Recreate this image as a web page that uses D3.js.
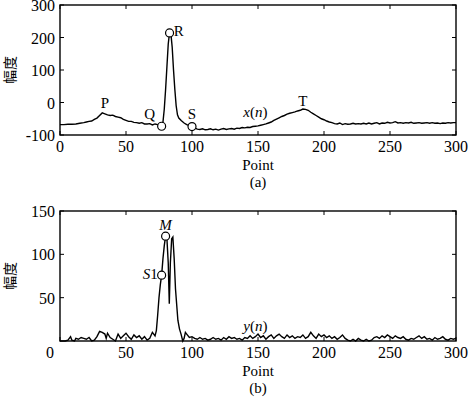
<!DOCTYPE html>
<html><head><meta charset="utf-8">
<script src="https://cdn.jsdelivr.net/npm/d3@7"></script>
<style>
body{margin:0;background:#fff;}
svg text{font-family:"Liberation Serif","Times New Roman",serif;fill:#000;}
</style></head>
<body><svg id="c" width="470" height="398"></svg>
<script>
// ---- data ----
const xTicks = [0,50,100,150,200,250,300];
const yTicksA = [-100,0,100,200,300];
const yTicksB = [50,100,150];

const xnN = [0,3,6,9,12,15,18,20,22,24,26,28,30,32,34,36,38,40,42,44,46,48,50,52,54,56,58,60,62,64,66,68,70,72,74,76,77,78,79,80,81,82,83,84,85,86,87,88,89,90,92,94,96,98,100,102,104,106,108,110,112,114,116,118,120,122,124,126,128,130,132,134,136,138,140,142,144,146,148,150,152,154,156,158,160,162,164,166,168,170,172,174,176,178,180,182,184,186,188,190,192,194,196,198,200,202,204,206,208,210,212,214,216,218,220,222,224,226,228,230,232,234,236,238,240,242,244,246,248,250,252,254,256,258,260,262,264,266,268,270,272,274,276,278,280,282,284,286,288,290,292,294,296,298,300];
const xnV = [-68,-68,-67,-67,-66,-64,-62,-60,-58,-57,-52,-48,-40,-32,-35,-38,-40,-39,-43,-45,-47,-52,-55,-58,-58,-61,-62,-64,-62,-66,-66,-65,-69,-66,-68,-72,-73,-60,-20,40,110,180,216,212,170,100,40,-10,-38,-48,-56,-63,-68,-71,-74,-78,-82,-83,-81,-84,-83,-81,-84,-82,-85,-82,-80,-83,-81,-80,-82,-79,-80,-77,-78,-76,-77,-74,-73,-72,-70,-68,-66,-63,-60,-55,-51,-47,-43,-40,-36,-33,-31,-29,-26,-24,-20,-21,-24,-30,-35,-40,-45,-50,-53,-57,-60,-62,-65,-66,-63,-68,-65,-67,-66,-64,-66,-65,-66,-64,-66,-63,-66,-64,-62,-66,-63,-64,-61,-63,-62,-59,-63,-62,-64,-62,-63,-61,-64,-63,-62,-64,-63,-62,-64,-62,-64,-63,-65,-63,-64,-62,-63,-62,-62];

const ynN = [0,2,4,6,8,9,11,12,14,16,18,20,22,24,26,28,30,32,34,35,36,38,40,42,44,46,48,50,52,54,56,58,60,62,64,66,68,70,72,73,74,75,76,77,78,79,80,81,82,82.8,83.6,84.6,85.5,86.5,87.5,89.3,90.5,91.7,93,94,95,96,98,100,102,104,106,108,110,112,114,116,118,120,122,124,126,128,130,132,134,136,138,140,142,144,146,148,150,152,154,156,158,160,162,164,166,168,170,172,174,176,178,180,182,184,186,188,190,192,194,196,198,200,202,204,206,208,210,212,214,216,218,220,222,224,226,228,230,232,234,236,238,240,242,244,246,248,250,252,254,256,258,260,262,264,266,268,270,272,274,276,278,280,282,284,286,288,290,292,294,296,298,300];
const ynV = [0,0,0,1,5,1,0,3,2,4,3,2,4,0,1,5,11,10,8,3,9,4,2,0,8,3,6,9,5,2,7,4,6,2,5,1,3,10,6,12,30,50,65,76,95,110,121,118,90,43,90,118,120,95,60,24,14,8,0,3,10,8,4,5,3,2,4,2,3,1,2,4,2,3,1,4,2,5,3,4,2,3,1,4,3,6,3,5,8,4,6,2,5,7,3,6,8,5,3,7,4,6,3,5,4,7,3,5,10,6,3,8,5,7,4,6,3,5,2,4,7,3,1,0,2,0,3,1,0,2,0,1,4,5,3,6,4,7,5,3,6,4,3,5,2,1,3,2,4,6,3,5,2,3,1,4,2,3,5,2,1,3,2,3];

const markA = [{n:77,v:-73},{n:83,v:214},{n:100,v:-74}];
const markB = [{n:80,v:121},{n:77,v:76}];

// ---- drawing ----
const svg = d3.select("#c");
const L = 60, R = 456;
const x = d3.scaleLinear().domain([0,300]).range([L,R]);

function panel(top, bottom, yDom, yTicks, N, V, marks, cap, zeroShift) {
  const y = d3.scaleLinear().domain(yDom).range([bottom, top]);
  const g = svg.append("g");
  g.append("rect").attr("x",L).attr("y",top).attr("width",R-L).attr("height",bottom-top)
    .attr("fill","none").attr("stroke","#000").attr("stroke-width",1.4);
  const tl = 4;
  xTicks.forEach(t=>{
    g.append("line").attr("x1",x(t)).attr("x2",x(t)).attr("y1",top).attr("y2",top+tl).attr("stroke","#000");
    g.append("line").attr("x1",x(t)).attr("x2",x(t)).attr("y1",bottom).attr("y2",bottom-tl).attr("stroke","#000");
  });
  yTicks.forEach(t=>{
    g.append("line").attr("x1",L).attr("x2",L+tl).attr("y1",y(t)).attr("y2",y(t)).attr("stroke","#000");
    g.append("line").attr("x1",R).attr("x2",R-tl).attr("y1",y(t)).attr("y2",y(t)).attr("stroke","#000");
  });
  xTicks.forEach(t=>{
    g.append("text").attr("x",x(t)+(t===0?zeroShift:0)).attr("y",bottom+17)
      .attr("text-anchor","middle").attr("font-size",16).text(t);
  });
  yTicks.forEach(t=>{
    g.append("text").attr("x",L-5).attr("y",y(t)+6)
      .attr("text-anchor","end").attr("font-size",16).text(t);
  });
  g.append("text").attr("x",x(150)).attr("y",bottom+35).attr("text-anchor","middle").attr("font-size",15).text("Point");
  g.append("text").attr("x",x(150)).attr("y",bottom+52).attr("text-anchor","middle").attr("font-size",15).text(cap);
  g.append("text").attr("transform",`translate(15,${(top+bottom)/2}) rotate(-90)`)
    .attr("text-anchor","middle").attr("font-size",14)
    .style("font-family","'Noto Sans CJK SC',sans-serif").text("幅度");
  const line = d3.line().x((d,i)=>x(N[i])).y((d,i)=>y(V[i]));
  g.append("path").datum(V).attr("d",line).attr("fill","none").attr("stroke","#000").attr("stroke-width",1.4);
  g.selectAll("circle.m").data(marks).enter().append("circle")
    .attr("cx",d=>x(d.n)).attr("cy",d=>y(d.v)).attr("r",4)
    .attr("fill","#fff").attr("stroke","#000").attr("stroke-width",1.2);
  return y;
}

const yA = panel(5, 135, [-100,300], yTicksA, xnN, xnV, markA, "(a)", 0);
const yB = panel(211, 341, [0,150], yTicksB, ynN, ynV, markB, "(b)", -10);

function lab(t, xx, yy, it, anchor) {
  return svg.append("text").attr("x",xx).attr("y",yy).attr("font-size",15)
    .attr("text-anchor",anchor||"middle").style("font-style",it?"italic":"normal").text(t);
}
lab("P", x(34), yA(-18), false);
lab("Q", x(68), yA(-50), false);
lab("R", x(90), yA(216)+4, false);
lab("S", x(100), yA(-52), false);
lab("T", x(184), yA(-12), false);
const xn = svg.append("text").attr("x",x(148)).attr("y",yA(-46)).attr("font-size",15).attr("text-anchor","middle");
xn.append("tspan").style("font-style","italic").text("x");
xn.append("tspan").text("(");
xn.append("tspan").style("font-style","italic").text("n");
xn.append("tspan").text(")");

lab("M", x(80), yB(128), true);
const s1 = svg.append("text").attr("x",x(74)).attr("y",yB(71)).attr("font-size",15).attr("text-anchor","end");
s1.append("tspan").style("font-style","italic").text("S");
s1.append("tspan").text("1");
const yn = svg.append("text").attr("x",x(148)).attr("y",yB(12)).attr("font-size",15).attr("text-anchor","middle");
yn.append("tspan").style("font-style","italic").text("y");
yn.append("tspan").text("(");
yn.append("tspan").style("font-style","italic").text("n");
yn.append("tspan").text(")");
</script></body></html>
